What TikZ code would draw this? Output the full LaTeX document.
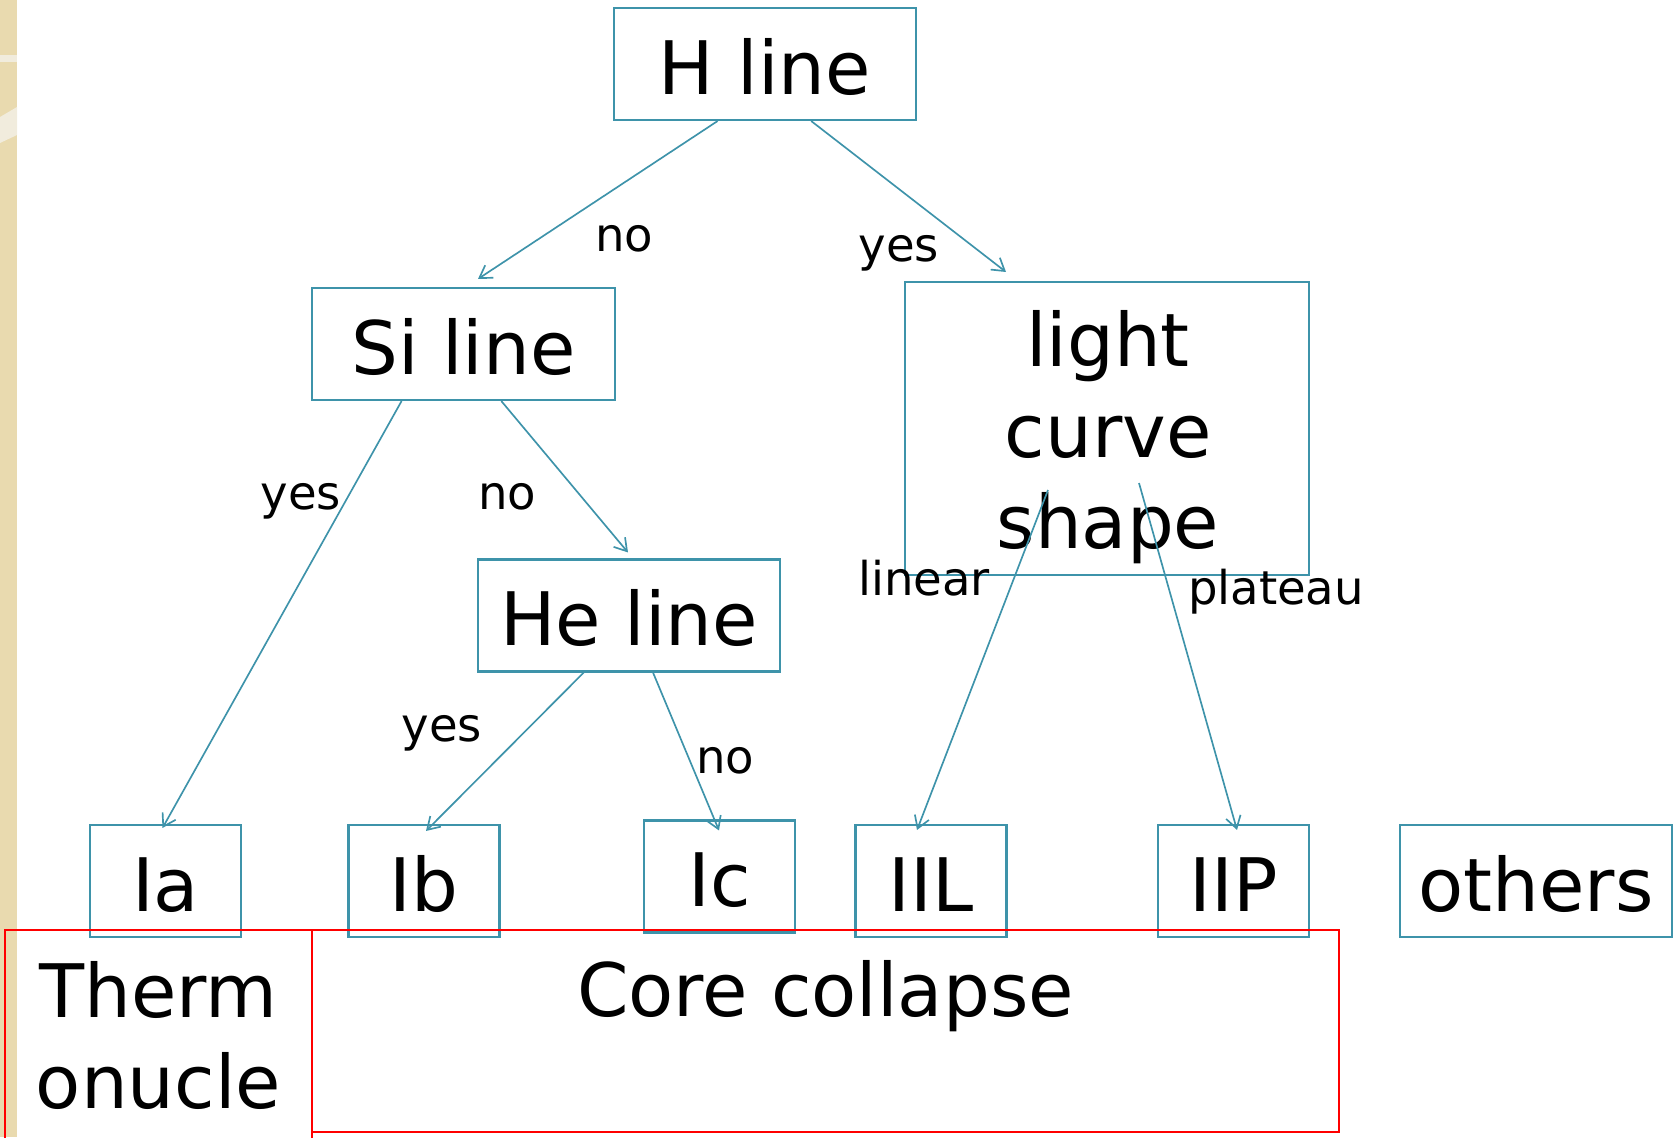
\documentclass[tikz,border=0pt]{standalone}
\usepackage{fontspec}
\setmainfont{DejaVu Sans}
\usetikzlibrary{arrows.meta,calc,positioning}
\definecolor{boxteal}{RGB}{62,147,170}
\definecolor{stripbeige}{RGB}{233,218,175}
\definecolor{stripband}{RGB}{241,236,221}

\begin{document}
\begin{tikzpicture}[
  x=0.02cm,y=-0.02cm,
  tbox/.style={rectangle,draw=boxteal,line width=1.2pt,inner sep=0pt,
    minimum height=2.24cm,text height=1.2cm,text depth=0pt,
    font=\fontsize{42}{50}\selectfont},
  smallbox/.style={tbox,minimum width=3.02cm},
  rbox/.style={rectangle,draw=red,line width=1.2pt,inner sep=0pt},
  bigtxt/.style={inner sep=0pt,align=center,font=\fontsize{42}{51.8}\selectfont},
  lbl/.style={inner sep=0pt,font=\fontsize{26.5}{32}\selectfont},
  arrow/.style={-{Straight Barb[length=0.24cm,width=0.3cm]},draw=boxteal,line width=0.95pt}
]
\useasboundingbox (0,0) rectangle (1677,1137);

% ── Faixa bege à esquerda ────────────────────────────────────────────────────
\fill[stripbeige] (0,0) rectangle (17,1137);
\fill[stripband] (0,55) rectangle (17,62);
\fill[stripband] (0,117) -- (17,107) -- (17,135) -- (0,143) -- cycle;

% ── Nós da árvore ────────────────────────────────────────────────────────────
\node[tbox,minimum width=6.04cm] (hline) at (765,64) {H line};
\node[tbox,minimum width=6.06cm] (siline) at (463.5,344) {Si line};
\node[tbox,minimum width=8.08cm,minimum height=5.86cm] (lcs) at (1107,428.5) {};
\node[bigtxt,anchor=north] (lcstxt) at ($(lcs.north)+(1,29)$) {light\\curve\\shape};
\node[tbox,minimum width=6.04cm] (heline) at (629,615.5) {He line};

% folhas
\node[smallbox] (Ia) at (165.5,881) {Ia};
\node[smallbox] (Ib) at (424,881) {Ib};
\node[smallbox] (Ic) at (719.5,876.5) {Ic};
\node[smallbox] (IIL) at (931,881) {IIL};
\node[smallbox] (IIP) at (1233.5,881) {IIP};
\node[tbox,minimum width=5.44cm] (others) at (1536,881) {others};

% ── Caixas vermelhas ─────────────────────────────────────────────────────────
\node[rbox,minimum width=6.14cm,minimum height=4.3cm] (therm) at (158.5,1037.5) {};
\node[rbox,minimum width=20.54cm,minimum height=4.04cm] (core) at (825.5,1031) {};
\node[bigtxt,anchor=north] (thermtxt) at ($(therm.north)+(0,32)$) {Therm\\onucle};
\node[bigtxt,anchor=north] (coretxt) at ($(core.north)+(0,31)$) {Core collapse};

% ── Rótulos ──────────────────────────────────────────────────────────────────
\node[lbl] (noH) at (624,239) {no};
\node[lbl] (yesH) at (899,253) {yes};
\node[lbl] (yesSi) at (301,501) {yes};
\node[lbl] (noSi) at (507,497) {no};
\node[lbl] (yesHe) at (442,733) {yes};
\node[lbl] (noHe) at (725,761) {no};
\node[lbl] (lin) at (924,578) {linear};
\node[lbl] (plat) at (1276,592) {plateau};

% ── Setas ────────────────────────────────────────────────────────────────────
\draw[arrow] ($(hline.south west)!0.344!(hline.south east)$) -- ($(siline.north)+(14.5,-8)$);
\draw[arrow] ($(hline.south west)!0.652!(hline.south east)$) -- ($(lcs.north)+(-101,-9)$);
\draw[arrow] ($(siline.south west)!0.297!(siline.south east)$) -- ($(Ia.north)+(-3,4)$);
\draw[arrow] ($(siline.south west)!0.624!(siline.south east)$) -- ($(heline.north)+(-1,-6)$);
\draw[arrow] ($(heline.south west)!0.351!(heline.south east)$) -- ($(Ib.north)+(2,7)$);
\draw[arrow] ($(heline.south west)!0.579!(heline.south east)$) -- ($(Ic.north)+(-0.5,11)$);
\draw[arrow] ($(lcs.center)+(-59,61.5)$) -- ($(IIL.north)+(-14,6)$);
\draw[arrow] ($(lcs.center)+(32,54.5)$) -- ($(IIP.north)+(3.5,6)$);
\end{tikzpicture}
\end{document}
